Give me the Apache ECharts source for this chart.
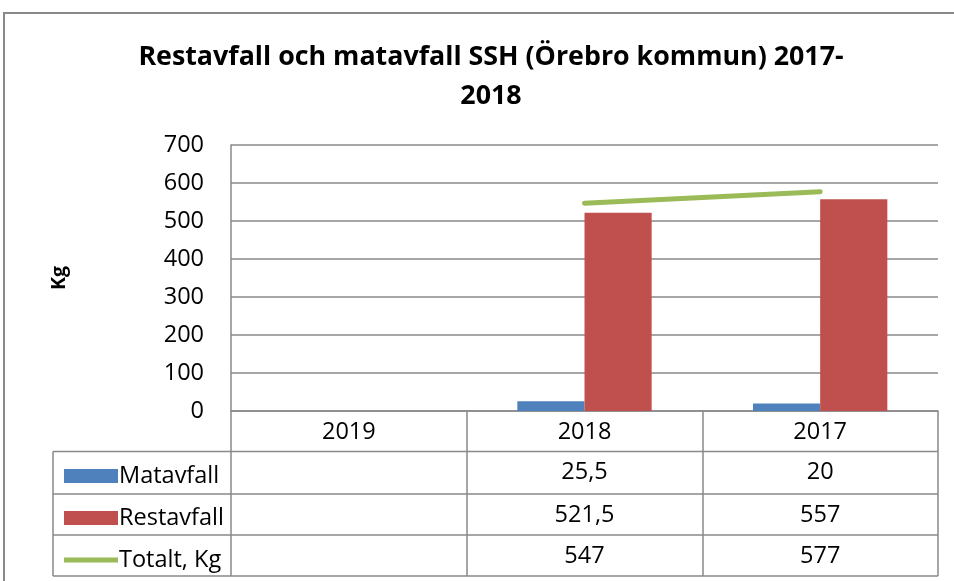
<!DOCTYPE html>
<html>
<head>
<meta charset="utf-8">
<script src="https://cdn.jsdelivr.net/npm/echarts@6/dist/echarts.min.js"></script>
<style>
html,body{margin:0;padding:0;background:#fff;}
#chart{width:954px;height:581px;}
</style>
</head>
<body>
<div id="chart"></div>
<script>
var categories = ['2019', '2018', '2017'];
var matavfall = [null, 25.5, 20];
var restavfall = [null, 521.5, 557];
var totalt = [null, 547, 577];
var yTicks = [0, 100, 200, 300, 400, 500, 600, 700];

var FONT = 'Open Sans';
var GRAY = '#898989';
var fmt = function (v) { return (v === null || v === undefined) ? '' : String(v).replace('.', ','); };

function rowAxis(values, offset) {
  return {
    type: 'category', data: categories, position: 'bottom', offset: offset,
    axisLine: { show: false }, axisTick: { show: false },
    axisLabel: {
      margin: 9, fontFamily: FONT, fontSize: 23.5, color: '#000',
      formatter: function (val, idx) { return fmt(values[idx]); }
    }
  };
}

var LINE_ICON = 'path://M0,0L0,0M0,14L0,14M0,4.5L54,4.5L54,9.5L0,9.5Z';

var chart = echarts.init(document.getElementById('chart'), null, { renderer: 'canvas' });
var option = {
  backgroundColor: '#fff',
  animation: false,
  title: {
    text: 'Restavfall och matavfall SSH (Örebro kommun) 2017-\n2018',
    left: 486, top: 33, textAlign: 'center',
    textStyle: { fontFamily: FONT, fontWeight: 'bold', fontSize: 26.8, lineHeight: 39, color: '#000' }
  },
  legend: {
    orient: 'vertical', left: 59, top: 459, itemGap: 18,
    itemWidth: 54, itemHeight: 14,
    data: [
      { name: 'Matavfall', icon: 'rect' },
      { name: 'Restavfall', icon: 'rect' },
      { name: 'Totalt, Kg', icon: LINE_ICON, itemStyle: { color: '#9BBB59' } }
    ],
    textStyle: { fontFamily: FONT, fontSize: 23.5, color: '#000', padding: [0, 0, 0, -4] }
  },
  grid: { left: 231, right: 16, top: 145, bottom: 170, containLabel: false },
  xAxis: [
    {
      type: 'category', data: categories, position: 'bottom',
      axisLine: { show: true, lineStyle: { color: GRAY, width: 1.5 } },
      axisTick: { show: true, interval: 0, length: 165, lineStyle: { color: GRAY, width: 1.5 } },
      axisLabel: { margin: 9, fontFamily: FONT, fontSize: 23.5, color: '#000', interval: 0 }
    },
    rowAxis(matavfall, 40),
    rowAxis(restavfall, 83),
    rowAxis(totalt, 124)
  ],
  yAxis: {
    type: 'value', min: 0, max: 700, interval: 100,
    name: 'Kg', nameLocation: 'middle', nameGap: 162, nameRotate: 90,
    nameTextStyle: { fontFamily: FONT, fontWeight: 'bold', fontSize: 19.5, color: '#000' },
    axisLine: { show: true, lineStyle: { color: GRAY, width: 1.5 } },
    axisTick: { show: false },
    splitLine: { show: true, lineStyle: { color: GRAY, width: 1.5 } },
    axisLabel: {
      margin: 27, fontFamily: FONT, fontSize: 23.5, color: '#000',
      customValues: yTicks
    }
  },
  series: [
    { name: 'Matavfall', type: 'bar', data: matavfall, barGap: '0%', barCategoryGap: '43%',
      itemStyle: { color: '#4F81BD' } },
    { name: 'Restavfall', type: 'bar', data: restavfall,
      itemStyle: { color: '#C0504D' } },
    { name: 'Totalt, Kg', type: 'line', data: totalt, symbol: 'none', showSymbol: false,
      lineStyle: { color: '#9BBB59', width: 5, cap: 'round' }, itemStyle: { color: '#9BBB59' } }
  ],
  graphic: [
    { type: 'rect', shape: { x: 4, y: 13, width: 1200, height: 1200 }, silent: true,
      style: { fill: 'none', stroke: GRAY, lineWidth: 2 } },
    { type: 'line', shape: { x1: 53, y1: 451.5, x2: 938, y2: 451.5 }, style: { stroke: GRAY, lineWidth: 1.5 } },
    { type: 'line', shape: { x1: 53, y1: 494, x2: 938, y2: 494 }, style: { stroke: GRAY, lineWidth: 1.5 } },
    { type: 'line', shape: { x1: 53, y1: 535, x2: 938, y2: 535 }, style: { stroke: GRAY, lineWidth: 1.5 } },
    { type: 'line', shape: { x1: 53, y1: 576, x2: 938, y2: 576 }, style: { stroke: GRAY, lineWidth: 1.5 } },
    { type: 'line', shape: { x1: 53, y1: 451.5, x2: 53, y2: 576 }, style: { stroke: GRAY, lineWidth: 1.5 } }
  ]
};
chart.setOption(option);
</script>
</body>
</html>
